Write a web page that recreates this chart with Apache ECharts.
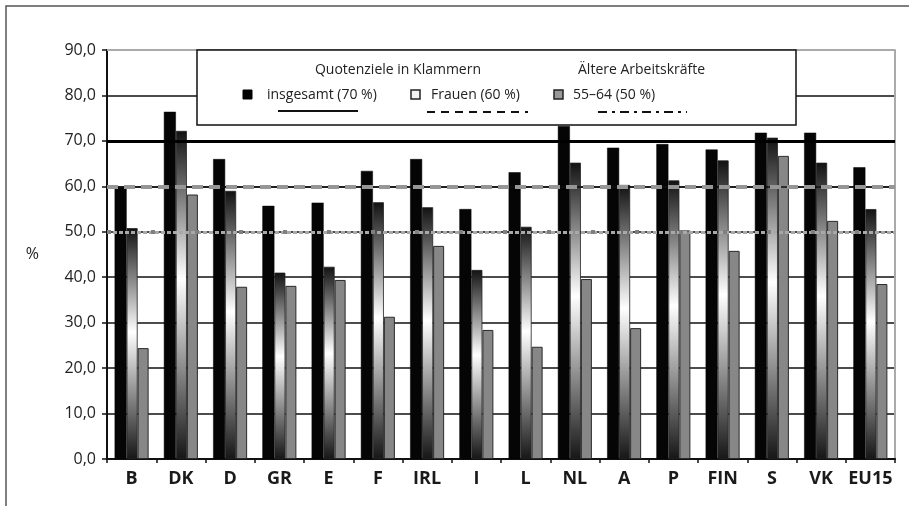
<!DOCTYPE html>
<html>
<head>
<meta charset="utf-8">
<script src="https://cdn.jsdelivr.net/npm/echarts@6/dist/echarts.min.js"></script>
<style>
html,body{margin:0;padding:0;background:#fff;}
#chart{width:909px;height:506px;}
</style>
</head>
<body>
<div id="chart"></div>
<script>
var categories = ['B','DK','D','GR','E','F','IRL','I','L','NL','A','P','FIN','S','VK','EU15'];
var insgesamt = [59.9, 76.4, 66.0, 55.7, 56.4, 63.4, 66.0, 55.0, 63.1, 73.3, 68.5, 69.3, 68.1, 71.8, 71.8, 64.2];
var frauen    = [50.8, 72.2, 59.0, 41.0, 42.3, 56.5, 55.4, 41.6, 51.1, 65.2, 60.3, 61.3, 65.7, 70.7, 65.2, 55.0];
var aeltere   = [24.4, 58.2, 37.9, 38.1, 39.4, 31.3, 46.9, 28.4, 24.7, 39.6, 28.8, 50.3, 45.8, 66.7, 52.4, 38.5];
var seriesNames = ['insgesamt (70 %)', 'Frauen (60 %)', '55–64 (50 %)'];
var targets = [70, 60, 50];
var legendTitles = ['Quotenziele in Klammern', 'Ältere Arbeitskräfte'];

var FONT = '"Open Sans", "Noto Sans", sans-serif';
var chart = echarts.init(document.getElementById('chart'), null, {renderer:'canvas'});

var grad = new echarts.graphic.LinearGradient(0, 0, 0, 1, [
  {offset:0, color:'#121212'},
  {offset:0.45, color:'#ffffff'},
  {offset:1, color:'#161616'}
]);

var option = {
  animation: false,
  backgroundColor: '#fff',
  grid: {left:107, right:14, top:50, bottom:47, containLabel:false},
  xAxis: {
    type:'category',
    data: categories,
    axisLine:{lineStyle:{color:'#111', width:2}},
    axisTick:{show:true, length:4, lineStyle:{color:'#111', width:1.5}},
    axisLabel:{interval:0, fontFamily:FONT, fontSize:18, fontWeight:'bold', color:'#1a1a1a', margin:11}
  },
  yAxis: [{
    type:'value', min:0, max:90, interval:10,
    name:'%', nameLocation:'middle', nameRotate:0, nameGap:68,
    nameTextStyle:{fontFamily:FONT, fontSize:16, color:'#222'},
    axisLine:{show:true, lineStyle:{color:'#111', width:2}},
    axisTick:{show:true, length:5, lineStyle:{color:'#111', width:1.5}},
    axisLabel:{fontFamily:FONT, fontSize:16, color:'#222', margin:11,
      formatter:function(v){return v.toFixed(1).replace('.', ',');}},
    splitLine:{show:true, lineStyle:{color:'#111', width:1.6}}
  },{
    type:'value', min:0, max:90, interval:10, position:'right',
    axisLine:{show:true, lineStyle:{color:'#aaa', width:2}},
    axisTick:{show:false}, axisLabel:{show:false}, splitLine:{show:false}
  }],
  series: [
    {
      name: seriesNames[0], type:'bar', data: insgesamt, barWidth:12, barGap:'0%',
      itemStyle:{color:'#050505', borderColor:'#000', borderWidth:0.5},
      markLine: {
        silent:true, symbol:['none','none'], label:{show:false}, z:5,
        data: [
          {yAxis: targets[0], lineStyle:{color:'#000', width:3, type:'solid'}},
          {yAxis: targets[1], lineStyle:{color:'#111', width:1.5, type:'solid'}},
          {yAxis: targets[1], lineStyle:{color:'#969696', width:4, type:[11,6]}},
          {yAxis: targets[2], lineStyle:{color:'#a8a8a8', width:3, type:[4,2]}},
          {yAxis: targets[2], lineStyle:{color:'#808080', width:4, type:[4,40]}},
          {yAxis: 90, lineStyle:{color:'#aaa', width:2, type:'solid'}}
        ]
      }
    },
    {
      name: seriesNames[1], type:'bar', data: frauen, barWidth:11, barGap:'0%',
      itemStyle:{color:grad, borderColor:'#222', borderWidth:0.8}
    },
    {
      name: seriesNames[2], type:'bar', data: aeltere, barWidth:11, barGap:'0%',
      itemStyle:{color:'#878787', borderColor:'#2a2a2a', borderWidth:1}
    }
  ],
  graphic: [
    {type:'rect', shape:{x:6, y:6, width:1000, height:1000}, style:{fill:'none', stroke:'#555', lineWidth:1.5}, z:1, silent:true},
    {type:'rect', shape:{x:197, y:50, width:599, height:75}, style:{fill:'#fff', stroke:'#111', lineWidth:1.5}, z:100, silent:true},
    {type:'text', x:398, y:70, style:{text:legendTitles[0], font:'14px ' + FONT, fill:'#222', textAlign:'center', textVerticalAlign:'middle'}, z:101},
    {type:'text', x:578, y:70, style:{text:legendTitles[1], font:'14px ' + FONT, fill:'#222', textAlign:'left', textVerticalAlign:'middle'}, z:101},
    {type:'rect', shape:{x:243, y:90, width:9, height:9}, style:{fill:'#000', stroke:'#000', lineWidth:1}, z:101},
    {type:'text', x:267, y:95, style:{text:seriesNames[0], font:'14px ' + FONT, fill:'#222', textAlign:'left', textVerticalAlign:'middle'}, z:101},
    {type:'rect', shape:{x:411, y:90, width:9, height:9}, style:{fill:'#f2f2f2', stroke:'#222', lineWidth:1.5}, z:101},
    {type:'text', x:431, y:95, style:{text:seriesNames[1], font:'14px ' + FONT, fill:'#222', textAlign:'left', textVerticalAlign:'middle'}, z:101},
    {type:'rect', shape:{x:554, y:90, width:9, height:9}, style:{fill:'#999', stroke:'#222', lineWidth:1.5}, z:101},
    {type:'text', x:573, y:95, style:{text:seriesNames[2], font:'14px ' + FONT, fill:'#222', textAlign:'left', textVerticalAlign:'middle'}, z:101},
    {type:'line', shape:{x1:278, y1:111, x2:358, y2:111}, style:{stroke:'#111', lineWidth:2}, z:101},
    {type:'line', shape:{x1:427, y1:112, x2:528, y2:112}, style:{stroke:'#111', lineWidth:2, lineDash:[8,6]}, z:101},
    {type:'line', shape:{x1:598, y1:112, x2:687, y2:112}, style:{stroke:'#111', lineWidth:2, lineDash:[9,5,3,5]}, z:101}
  ]
};
chart.setOption(option);
</script>
</body>
</html>
